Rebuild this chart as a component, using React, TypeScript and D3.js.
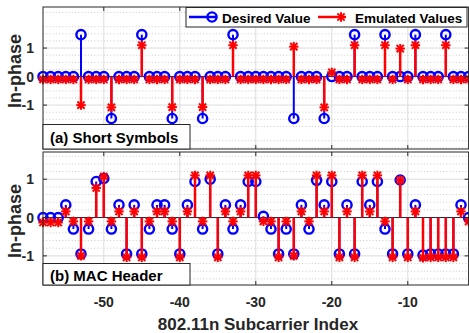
import React from 'react';
import * as d3 from 'd3';

const subcarriers = [-58, -57, -56, -55, -54, -53, -52, -51, -50, -49, -48, -47, -46, -45, -44, -43, -42, -41, -40, -39, -38, -37, -36, -35, -34, -33, -32, -31, -30, -29, -28, -27, -26, -25, -24, -23, -22, -21, -20, -19, -18, -17, -16, -15, -14, -13, -12, -11, -10, -9, -8, -7, -6, -5, -4, -3, -2];

const shortDesired = [0, 0, 0, 0, 0, 1.47, 0, 0, 0, -1.47, 0, 0, 0, 1.47, 0, 0, 0, -1.47, 0, 0, 0, -1.47, 0, 0, 0, 1.47, 0, 0, 0, 0, 0, 0, 0, -1.47, 0, 0, 0, -1.47, 0, 0, 0, 1.47, 0, 0, 0, 1.47, 0, 0, 0, 1.47, 0, 0, 0, 1.47, 0, 0, 0];
const shortEmulated = [-0.1, -0.1, -0.1, -0.1, -0.1, -1.0, -0.1, -0.1, -0.1, -1.08, -0.1, -0.1, -0.1, 1.1, -0.1, -0.1, -0.1, -1.07, -0.1, -0.1, -0.1, -1.07, -0.1, -0.1, -0.1, 1.1, -0.1, -0.1, -0.1, -0.1, -0.1, -0.1, -0.1, 1.05, -0.1, -0.1, -0.1, -1.08, 0.15, -0.1, -0.1, 1.1, -0.1, -0.1, -0.1, 1.1, -0.1, 0.98, -0.1, 1.1, -0.1, -0.1, -0.1, 1.1, -0.1, -0.1, -0.1];

const macDesired = [0, 0, 0, 0.33, -0.3, -0.95, -0.3, 0.94, 1.02, -0.3, 0.33, -0.95, 0.33, -0.95, -0.3, 0.33, 0.33, -0.3, -0.95, 0.33, 0.94, -0.3, 1.0, -0.95, 0.33, -0.3, 0.33, 0.94, 0.94, 0.03, -0.3, -0.95, -0.3, -0.95, 0.33, -0.3, 0.97, 0.33, 0.94, -0.95, 0.33, -0.95, 0.94, 0.33, 0.94, -0.3, -0.95, 0.98, -0.95, 0.33, -0.98, -0.95, -0.95, -0.95, -0.95, 0.33, 0];
const macEmulated = [-0.13, -0.13, -0.13, 0.16, -0.1, -1.0, -0.1, 0.77, 1.07, -0.1, 0.16, -1.04, 0.16, -1.04, -0.1, 0.16, 0.16, -0.1, -1.04, 0.16, 1.1, -0.1, 1.1, -1.04, 0.16, -0.1, 0.16, 1.1, 1.1, -0.1, -0.1, -1.04, -0.1, -1.0, 0.16, -0.1, 1.1, 0.16, 1.1, -1.04, 0.16, -1.04, 1.1, 0.16, 1.1, -0.1, -1.04, 0.98, -1.04, 0.16, -1.05, -1.04, -1.04, -1.04, -1.04, 0.16, -0.1];

const xTicks = [-50, -40, -30, -20, -10];
const yTicks = [-1, 0, 1];
const seriesNames = ['Desired Value', 'Emulated Values'];
const panelTitles = ['(a) Short Symbols', '(b) MAC Header'];
const xTitle = '802.11n Subcarrier Index';
const yTitle = 'In-phase';

const W = 469;
const H = 333;
const FONT = '"Liberation Sans", Arial, Helvetica, sans-serif';
const BLUE = '#0000ff';
const RED = '#ff0000';
const AX = '#262626';
const LEFT = 43;
const RIGHT = 468.6;

const x = d3.scaleLinear().domain([-58, -2]).range([LEFT, RIGHT]);

function Asterisk({ cx, cy, r, color, sw }: { cx: number; cy: number; r: number; color: string; sw: number }) {
  const d = r * 0.78;
  return (
    <g stroke={color} strokeWidth={sw} strokeLinecap="square">
      <line x1={cx - r} y1={cy} x2={cx + r} y2={cy} />
      <line x1={cx} y1={cy - r} x2={cx} y2={cy + r} />
      <line x1={cx - d} y1={cy - d} x2={cx + d} y2={cy + d} />
      <line x1={cx - d} y1={cy + d} x2={cx + d} y2={cy - d} />
    </g>
  );
}

type PanelProps = {
  top: number;
  bottom: number;
  domain: [number, number];
  desired: number[];
  emulated: number[];
  minorStep: number;
  title: string;
  titleBox: [number, number];
  titleBaseline: number;
  showXLabels: boolean;
  yTitleY: number;
};

function Panel(p: PanelProps) {
  const y = d3.scaleLinear().domain(p.domain).range([p.bottom, p.top]);
  const minor = d3
    .range(Math.ceil(p.domain[0] / p.minorStep), Math.floor(p.domain[1] / p.minorStep) + 1)
    .map((k) => k * p.minorStep)
    .filter((v) => Math.abs(v - Math.round(v)) > 1e-6);
  const tl = 4;
  return (
    <g>
      {minor.map((v) => (
        <line key={'m' + v} x1={LEFT} x2={RIGHT} y1={y(v)} y2={y(v)} stroke="#bdbdbd" strokeWidth={0.8} strokeDasharray="1,2.2" />
      ))}
      {xTicks.map((t) => (
        <line key={'gx' + t} x1={x(t)} x2={x(t)} y1={p.top} y2={p.bottom} stroke="#dcdcdc" strokeWidth={1} />
      ))}
      {yTicks.map((t) => (
        <line key={'gy' + t} x1={LEFT} x2={RIGHT} y1={y(t)} y2={y(t)} stroke="#dcdcdc" strokeWidth={1} />
      ))}
      <line x1={LEFT} x2={RIGHT} y1={y(0)} y2={y(0)} stroke={AX} strokeWidth={1} />
      {subcarriers.map((s, i) => (
        <line key={'bs' + s} x1={x(s)} x2={x(s)} y1={y(0)} y2={y(p.desired[i])} stroke={BLUE} strokeWidth={2} />
      ))}
      {subcarriers.map((s, i) => (
        <circle key={'bc' + s} cx={x(s)} cy={y(p.desired[i])} r={4.6} fill="none" stroke={BLUE} strokeWidth={2.4} />
      ))}
      {subcarriers.map((s, i) => (
        <line key={'rs' + s} x1={x(s)} x2={x(s)} y1={y(0)} y2={y(p.emulated[i])} stroke={RED} strokeWidth={2.5} />
      ))}
      {subcarriers.map((s, i) => (
        <Asterisk key={'ra' + s} cx={x(s)} cy={y(p.emulated[i])} r={3.7} color={RED} sw={2} />
      ))}
      <rect x={LEFT} y={p.top} width={RIGHT - LEFT} height={p.bottom - p.top} fill="none" stroke={AX} strokeWidth={1} />
      {xTicks.map((t) => (
        <g key={'tx' + t} stroke={AX} strokeWidth={1}>
          <line x1={x(t)} x2={x(t)} y1={p.bottom} y2={p.bottom - tl} />
          <line x1={x(t)} x2={x(t)} y1={p.top} y2={p.top + tl} />
        </g>
      ))}
      {yTicks.map((t) => (
        <g key={'ty' + t} stroke={AX} strokeWidth={1}>
          <line x1={LEFT} x2={LEFT + tl} y1={y(t)} y2={y(t)} />
          <line x1={RIGHT} x2={RIGHT - tl} y1={y(t)} y2={y(t)} />
        </g>
      ))}
      {yTicks.map((t) => (
        <text key={'yl' + t} x={34} y={y(t)} dy="0.36em" textAnchor="end" fontSize={14} fontWeight="bold" fill={AX} fontFamily={FONT}>
          {t}
        </text>
      ))}
      {p.showXLabels &&
        xTicks.map((t) => (
          <text key={'xl' + t} x={x(t)} y={306.5} textAnchor="middle" fontSize={14} fontWeight="bold" fill={AX} fontFamily={FONT}>
            {t}
          </text>
        ))}
      <text transform={`translate(21,${p.yTitleY}) rotate(-90)`} textAnchor="middle" fontSize={18} fontWeight="bold" fill={AX} fontFamily={FONT}>
        {yTitle}
      </text>
      <rect x={LEFT} y={p.titleBox[0]} width={190 - LEFT} height={p.titleBox[1] - p.titleBox[0]} fill="#ffffff" stroke={AX} strokeWidth={1} />
      <text x={50} y={p.titleBaseline} fontSize={15} fontWeight="bold" fill="#000" fontFamily={FONT}>
        {p.title}
      </text>
    </g>
  );
}

export default function App() {
  return (
    <svg width={W} height={H} viewBox={`0 0 ${W} ${H}`} style={{ position: 'fixed', left: 0, top: 0, display: 'block', background: '#fff' }}>
      <rect x={0} y={0} width={W} height={H} fill="#fff" />
      <Panel
        top={7}
        bottom={149}
        domain={[-2.54, 2.44]}
        desired={shortDesired}
        emulated={shortEmulated}
        minorStep={0.25}
        title={panelTitles[0]}
        titleBox={[124.5, 149]}
        titleBaseline={142.5}
        showXLabels={false}
        yTitleY={71}
      />
      <Panel
        top={152}
        bottom={285}
        domain={[-1.76, 1.71]}
        desired={macDesired}
        emulated={macEmulated}
        minorStep={0.2}
        title={panelTitles[1]}
        titleBox={[263.5, 285]}
        titleBaseline={281}
        showXLabels={true}
        yTitleY={221}
      />
      <text x={258} y={330} textAnchor="middle" fontSize={17} fontWeight="bold" fill={AX} fontFamily={FONT}>
        {xTitle}
      </text>
      <g>
        <rect x={186} y={7.5} width={281} height={19.5} fill="#fff" stroke={AX} strokeWidth={1} />
        <line x1={189} x2={217} y1={17} y2={17} stroke={BLUE} strokeWidth={2.5} />
        <circle cx={212} cy={17} r={4.6} fill="none" stroke={BLUE} strokeWidth={2.4} />
        <text x={222} y={22.5} fontSize={13.5} fontWeight="bold" fill="#000" fontFamily={FONT}>
          {seriesNames[0]}
        </text>
        <line x1={318} x2={346} y1={17} y2={17} stroke={RED} strokeWidth={2.5} />
        <Asterisk cx={341} cy={17} r={3.7} color={RED} sw={2} />
        <text x={355} y={22.5} fontSize={13.5} fontWeight="bold" fill="#000" fontFamily={FONT}>
          {seriesNames[1]}
        </text>
      </g>
    </svg>
  );
}
